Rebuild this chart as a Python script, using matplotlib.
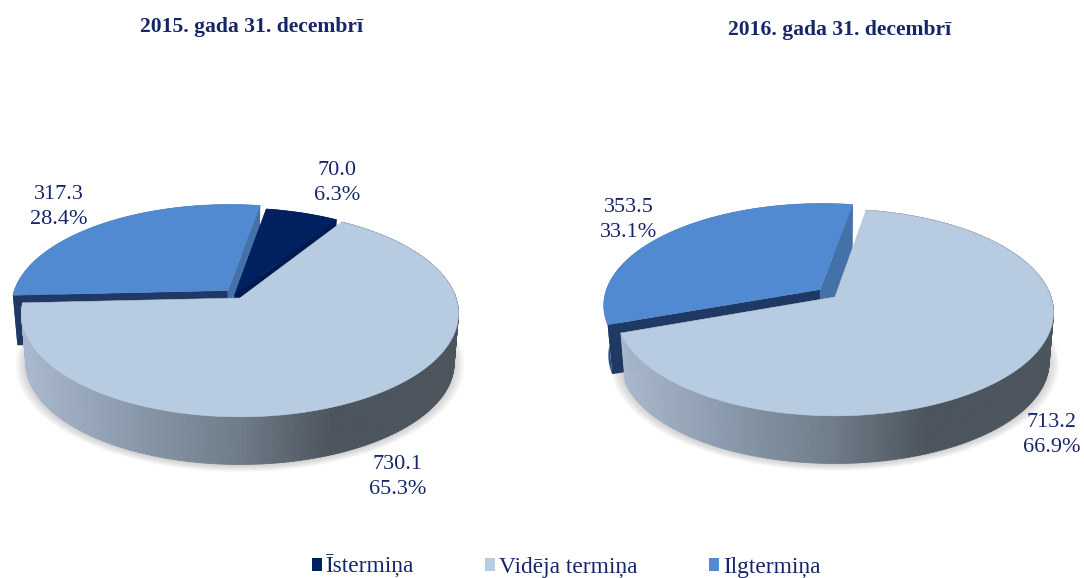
import numpy as np
import matplotlib
matplotlib.use('Agg')
import matplotlib.pyplot as plt
from matplotlib.collections import PolyCollection
from matplotlib.colors import LinearSegmentedColormap
from matplotlib.patches import Patch, Polygon

# Data
titles = ['2015. gada 31. decembrī', '2016. gada 31. decembrī']
categories = ['Īstermiņa', 'Vidēja termiņa', 'Ilgtermiņa']
values_2015 = [70.0, 730.1, 317.3]
values_2016 = [0.0, 713.2, 353.5]
shares_2015 = ['6.3%', '65.3%', '28.4%']
shares_2016 = ['', '66.9%', '33.1%']

# Styles
top_colors = ['#002060', '#b7cbe1', '#528ad2']
text_color = '#16266a'
side_colors = {0: '#001a50', 2: '#1f3864'}
front_colors = {0: '#001a50', 2: '#4472a8'}
outer_colors = {0: '#001a50', 2: '#2a4f86'}
wall_cmap = LinearSegmentedColormap.from_list('wall', [
    (0.0, '#a9b9cd'), (0.25, '#8a99ab'), (0.5, '#6f7c89'), (0.72, '#4c545d'), (1.0, '#4c545d')])

A, B, K, DEPTH = 216, 101, 0.15, 50  # ellipse shape, perspective, thickness
START = 9.5  # first slice starts here, clockwise from top
# how far each slice is pulled out of the pie, in disc units
SHIFT_2015 = {0: (-0.025, -0.03), 1: (0.0, 0.0), 2: (-0.057, -0.075)}
SHIFT_2016 = {1: (0.0, 0.0), 2: (-0.07, -0.075)}

plt.rcParams['font.family'] = ['Liberation Serif', 'DejaVu Serif']


def project(u, v, cx, cy, z=0.0):
    # disc coordinates to picture pixels, z=1 is the bottom face
    w = 1 - K * np.asarray(v)
    s = 1 - 0.02 * z
    return cx + A * s * np.asarray(u) / w, cy + B * s * np.asarray(v) / w + DEPTH * z


def xy(points):
    return np.column_stack(points)


def draw_pie(ax, values, shift, cx, cy):
    total = sum(values)
    spans = [v / total * 360 for v in values]
    starts = START + np.cumsum([0] + spans[:-1])

    # soft shadow under the pie
    t = np.radians(np.linspace(0, 360, 200))
    for grow in np.linspace(1.045, 1.0, 6):
        x, y = project(grow * np.sin(t), -grow * np.cos(t), cx, cy + 1, 1)
        ax.add_patch(Polygon(xy((x, y)), fc='#555555', ec='none', alpha=0.05, zorder=1))

    # back slices first, the big light one goes on top
    for i in [2, 0, 1]:
        if values[i] == 0:
            continue
        ou, ov = shift[i]
        t = np.radians(np.linspace(starts[i], starts[i] + spans[i], 240))
        u, v = ou + np.sin(t), ov - np.cos(t)
        z = 2 + [2, 0, 1].index(i)

        tx, ty = project(u, v, cx, cy)
        bx, by = project(u, v, cx, cy, 1)
        ax0, ay0 = project(ou, ov, cx, cy)
        ax1, ay1 = project(ou, ov, cx, cy, 1)

        if i == 1:
            # outer wall shaded from left to right
            quads = [[(tx[j], ty[j]), (tx[j + 1], ty[j + 1]), (bx[j + 1], by[j + 1]), (bx[j], by[j])]
                     for j in range(len(t) - 1)]
            tone = wall_cmap(np.clip((tx[:-1] - (cx - A)) / (2 * A), 0, 1))
            ax.add_collection(PolyCollection(quads, facecolors=tone, edgecolors=tone, linewidths=0.6, zorder=z))
        else:
            wall = np.vstack([xy((tx, ty)), xy((bx, by))[::-1]])
            ax.add_patch(Polygon(wall, fc=outer_colors[i], ec='none', zorder=z))
            # cut faces at the two straight edges
            ax.add_patch(Polygon([(ax0, ay0), (tx[0], ty[0]), (bx[0], by[0]), (ax1, ay1)],
                                 fc=side_colors[i], ec='none', zorder=z))
            ax.add_patch(Polygon([(ax0, ay0), (tx[-1], ty[-1]), (bx[-1], by[-1]), (ax1, ay1)],
                                 fc=front_colors[i], ec='none', zorder=z))

        face = np.vstack([[(ax0, ay0)], xy((tx, ty))])
        ax.add_patch(Polygon(face, fc=top_colors[i], ec=top_colors[i], lw=0.4, zorder=z + 0.5))


fig = plt.figure(figsize=(10.84, 5.78), dpi=100)
ax = fig.add_axes([0, 0, 1, 1])
ax.set_xlim(0, 1084)
ax.set_ylim(578, 0)
ax.axis('off')

draw_pie(ax, values_2015, SHIFT_2015, 240, 298)
draw_pie(ax, values_2016, SHIFT_2016, 835, 297)

ax.text(252, 27, titles[0], ha='center', va='center', fontsize=15.6, fontweight='bold', color=text_color)
ax.text(840, 30, titles[1], ha='center', va='center', fontsize=15.6, fontweight='bold', color=text_color)

# data labels
for x, y, val, share in [(337, 183, values_2015[0], shares_2015[0]),
                         (398, 477, values_2015[1], shares_2015[1]),
                         (59, 207, values_2015[2], shares_2015[2]),
                         (1052, 435, values_2016[1], shares_2016[1]),
                         (629, 220, values_2016[2], shares_2016[2])]:
    ax.text(x, y, f'{val:.1f}\n{share}', ha='center', va='center', fontsize=16,
            color=text_color, linespacing=1.38, zorder=10)

handles = [Patch(fc=c, ec='none') for c in top_colors]
ax.legend(handles, categories, loc='center', bbox_to_anchor=(566 / 1084, 1 - 566.5 / 578), ncols=3,
          frameon=False, fontsize=16.8, labelcolor=text_color, handlelength=0.43, handleheight=0.43,
          handletextpad=0.17, columnspacing=3.05, borderpad=0)

fig.savefig('out.png', dpi=100)
